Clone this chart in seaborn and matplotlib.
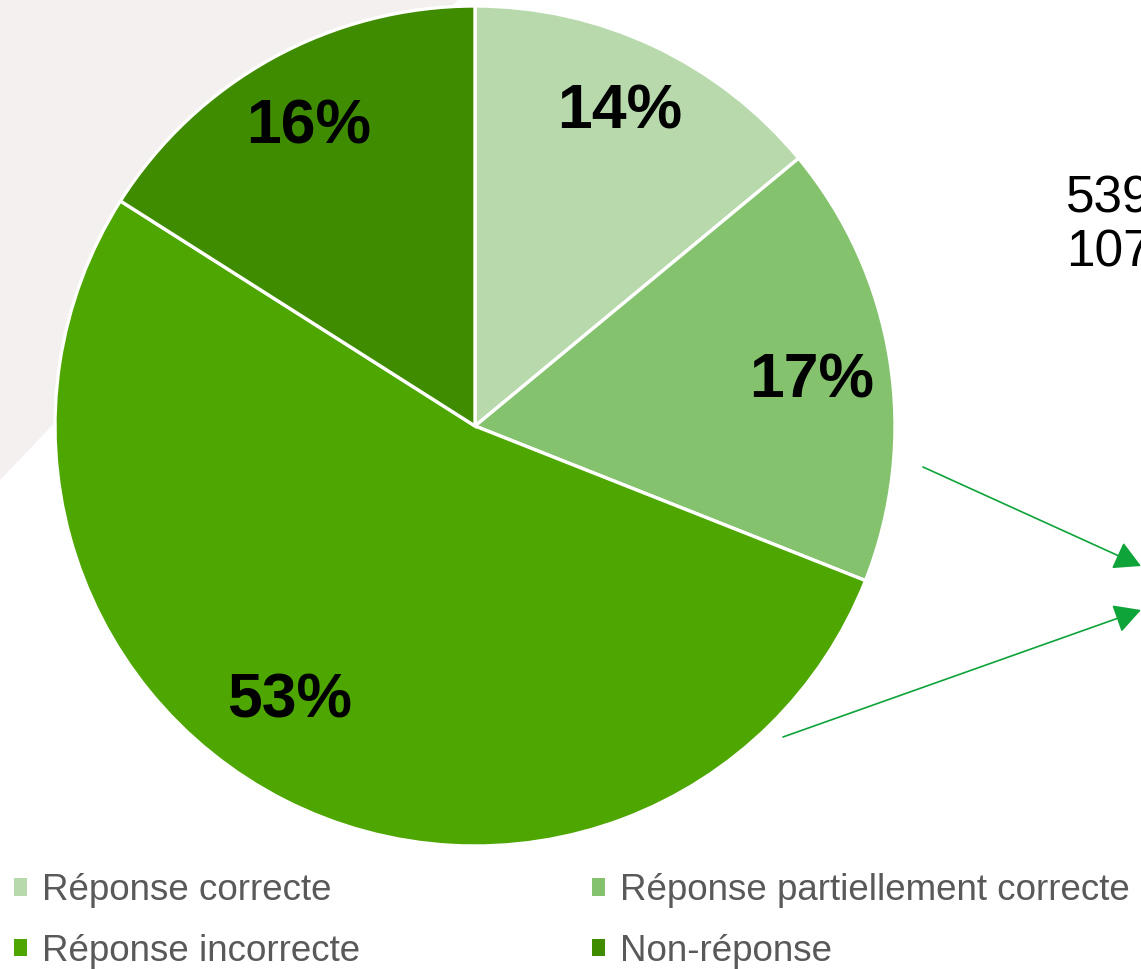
import matplotlib
matplotlib.use("Agg")
import matplotlib.pyplot as plt
from matplotlib.patches import Polygon, Patch
import seaborn as sns

# --- data -------------------------------------------------------------
categories = [
    "Réponse correcte",
    "Réponse partiellement correcte",
    "Réponse incorrecte",
    "Non-réponse",
]
shares = [14, 17, 53, 16]
colors = ["#B7D9AC", "#84C26E", "#4EA600", "#3F8C00"]
side_numbers = ["539", "107"]

# --- canvas (pixel-like coordinates, y measured from the top) --------
W, H = 1141, 969
DPI = 100

sns.set_theme(style="white")
plt.rcParams["font.family"] = ["Liberation Sans", "DejaVu Sans"]

fig = plt.figure(figsize=(W / DPI, H / DPI), dpi=DPI)
ax = fig.add_axes([0, 0, 1, 1])


def px(x, y):
    """Convert top-left pixel coordinates to data coordinates."""
    return (x, H - y)


# light grey backdrop triangle in the upper-left corner
ax.add_patch(Polygon([px(0, 0), px(458, 0), px(0, 480)], closed=True,
                     facecolor="#F3F0EF", edgecolor="none", zorder=0))

# --- pie ------------------------------------------------------------------
center = px(475, 426)
radius = 420
wedges, _ = ax.pie(
    shares,
    colors=colors,
    startangle=90,
    counterclock=False,
    center=center,
    radius=radius,
    wedgeprops=dict(edgecolor="white", linewidth=2.4),
    frame=True,
)
for w in wedges:
    w.set_zorder(2)

# percentage labels
label_pos = [(620, 112), (812, 381), (290, 701), (309, 127)]
for share, (lx, ly) in zip(shares, label_pos):
    ax.text(*px(lx, ly), f"{share}%", ha="center", va="center",
            fontsize=45, fontweight="bold", color="black", zorder=3)

# numbers on the right
ax.text(*px(1066, 174), "\n".join(side_numbers), ha="left", va="top",
        fontsize=37, color="black", linespacing=1.15, zorder=3)

# arrows pointing to the right
arrow_kw = dict(arrowstyle="-|>,head_length=0.55,head_width=0.3",
                color="#0EA43A", lw=1.2,
                mutation_scale=30, shrinkA=0, shrinkB=0)
ax.annotate("", xy=px(1141, 566), xytext=px(923, 467), arrowprops=arrow_kw,
            zorder=3)
ax.annotate("", xy=px(1141, 610), xytext=px(783, 737), arrowprops=arrow_kw,
            zorder=3)

ax.set_xlim(0, W)
ax.set_ylim(0, H)
ax.set_aspect("equal")
ax.axis("off")

# --- legend (row-wise order) -----------------------------------------------
handles = [Patch(facecolor=c, edgecolor="none") for c in colors]
order = [0, 2, 1, 3]
fig.legend(
    [handles[i] for i in order],
    [categories[i] for i in order],
    ncol=2,
    loc="upper left",
    bbox_to_anchor=(14 / W, 1 - 873 / H),
    frameon=False,
    fontsize=26.5,
    labelcolor="#595959",
    handlelength=0.36,
    handleheight=0.36,
    handletextpad=0.4,
    columnspacing=6.3,
    labelspacing=0.7,
    borderpad=0,
    borderaxespad=0,
)

fig.savefig("out.png", dpi=DPI)
